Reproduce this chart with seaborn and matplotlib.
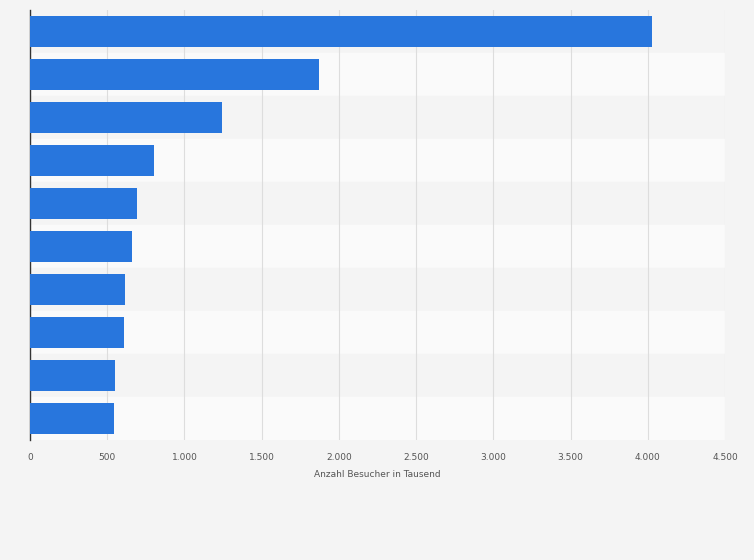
import pandas as pd
import matplotlib
matplotlib.use("Agg")
import matplotlib.pyplot as plt
import seaborn as sns

# values (thousand visitors), category names are not shown
ranks = ["1", "2", "3", "4", "5", "6", "7", "8", "9", "10"]
visitors = [4030, 1870, 1245, 805, 695, 662, 617, 611, 552, 546]
xticks = [0, 500, 1000, 1500, 2000, 2500, 3000, 3500, 4000, 4500]
xtick_labels = ["0", "500", "1.000", "1.500", "2.000", "2.500", "3.000", "3.500", "4.000", "4.500"]

df = pd.DataFrame({"rank": ranks, "visitors": visitors})

fig = plt.figure(figsize=(7.54, 5.6), dpi=100, facecolor="#f4f4f4")
ax = fig.add_axes([30 / 754, 120 / 560, 695 / 754, 430 / 560])
ax.set_facecolor("#f4f4f4")

# alternating row bands
for i in range(len(ranks)):
    ax.axhspan(i - 0.5, i + 0.5, color="#f4f4f4" if i % 2 == 0 else "#fafafa", zorder=0)

sns.barplot(data=df, x="visitors", y="rank", orient="h", color="#2876dd",
            saturation=1, width=0.7, ax=ax, zorder=3)

ax.set_xlim(0, 4500)
ax.set_ylim(len(ranks) - 0.5, -0.5)
ax.set_xticks(xticks)
ax.set_xticklabels(xtick_labels, fontsize=6.5, color="#555555")
ax.set_yticks([])
ax.set_ylabel("")
ax.set_xlabel("Anzahl Besucher in Tausend", fontsize=6.5, color="#555555", labelpad=6)
ax.xaxis.grid(True, color="#dddddd", linewidth=0.8, zorder=1)
ax.set_axisbelow(True)
ax.tick_params(axis="x", length=0, pad=9)
for s in ["top", "right", "bottom"]:
    ax.spines[s].set_visible(False)
ax.spines["left"].set_color("#333333")
ax.spines["left"].set_linewidth(1)

fig.savefig("out.png", dpi=100, facecolor=fig.get_facecolor())
